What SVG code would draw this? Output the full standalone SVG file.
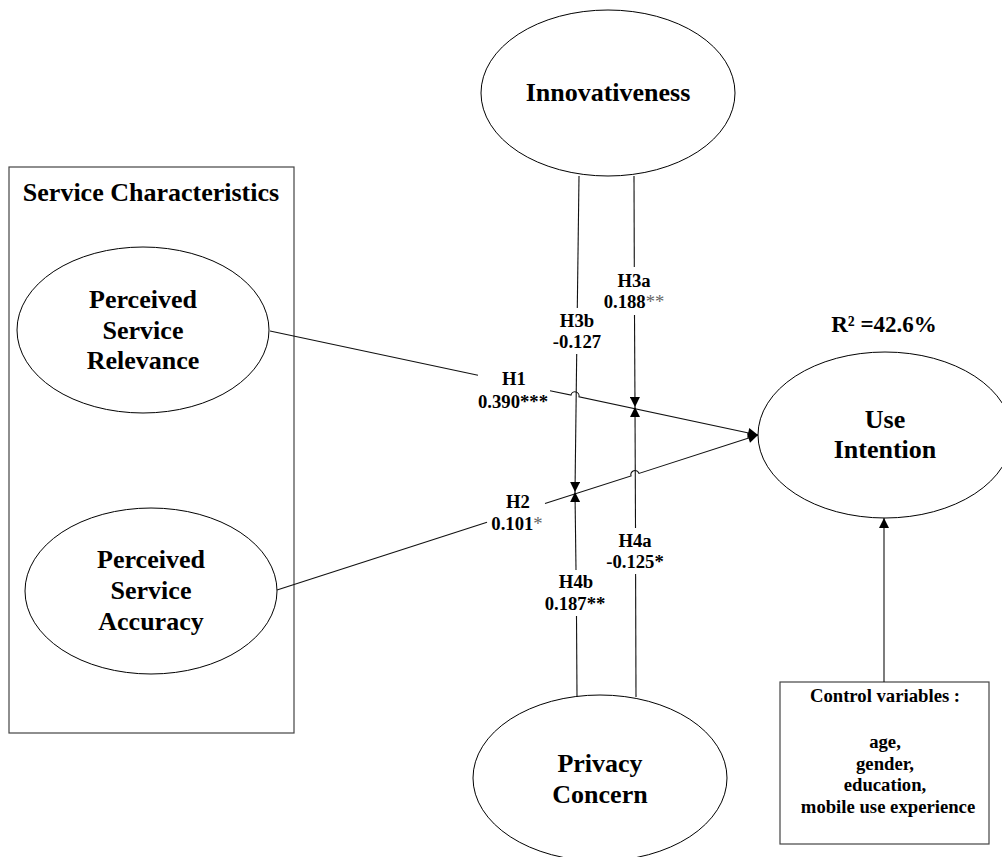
<svg xmlns="http://www.w3.org/2000/svg" width="1002" height="857" viewBox="0 0 1002 857">
<style>
  .node { fill: #ffffff; stroke: #000000; stroke-width: 1; }
  .box { fill: none; stroke: #444444; stroke-width: 1.2; }
  .big { font-family: "Liberation Serif", "Times New Roman", serif; font-weight: bold; font-size: 26px; fill: #000; text-anchor: middle; }
  .lbl { font-family: "Liberation Serif", "Times New Roman", serif; font-weight: bold; font-size: 18.7px; fill: #000; text-anchor: middle; }
  .gray { fill: #666666; font-weight: normal; }
  .edge { fill: none; stroke: #111111; stroke-width: 1.1; }
</style>
<defs>
  <marker id="arrow" viewBox="0 0 10 10" refX="10" refY="5" markerWidth="11" markerHeight="10" markerUnits="userSpaceOnUse" orient="auto">
    <path d="M0,0 L10,5 L0,10 z" fill="#000"/>
  </marker>
</defs>
<rect width="1002" height="857" fill="#ffffff"/>

<g id="service-characteristics">
  <rect class="box" x="9" y="167" width="285" height="566"/>
  <text class="big" x="151" y="201">Service Characteristics</text>
</g>

<g id="perceived-service-relevance">
  <ellipse class="node" cx="143" cy="330" rx="126" ry="83"/>
  <text class="big" x="143" y="308">Perceived</text>
  <text class="big" x="143" y="338.5">Service</text>
  <text class="big" x="143" y="369">Relevance</text>
</g>

<g id="perceived-service-accuracy">
  <ellipse class="node" cx="151" cy="591" rx="126" ry="83"/>
  <text class="big" x="151" y="568">Perceived</text>
  <text class="big" x="151" y="599">Service</text>
  <text class="big" x="151" y="630">Accuracy</text>
</g>

<g id="innovativeness">
  <ellipse class="node" cx="608" cy="93" rx="127" ry="83"/>
  <text class="big" x="608" y="101">Innovativeness</text>
</g>

<g id="privacy-concern">
  <ellipse class="node" cx="600" cy="778" rx="127" ry="83"/>
  <text class="big" x="600" y="772">Privacy</text>
  <text class="big" x="600" y="803">Concern</text>
</g>

<g id="use-intention">
  <ellipse class="node" cx="885" cy="435" rx="127" ry="83"/>
  <text class="big" x="885" y="428">Use</text>
  <text class="big" x="885" y="458">Intention</text>
  <text class="big" x="884" y="332" style="font-size:23px">R² =42.6%</text>
</g>

<g id="control-variables">
  <rect class="box" x="780" y="682" width="209" height="162"/>
  <text class="lbl" x="885" y="702">Control variables :</text>
  <text class="lbl" x="885" y="748">age,</text>
  <text class="lbl" x="885" y="769.5">gender,</text>
  <text class="lbl" x="885" y="791">education,</text>
  <text class="lbl" x="888" y="812.5">mobile use experience</text>
</g>

<g id="connectors">
  <!-- H1: PSR -> Use Intention -->
  <path class="edge" d="M270,331 L478,375.3"/>
  <path class="edge" d="M550,390.7 L571,395.1 A4,4 0 0 1 579,396.8 L758,435" marker-end="url(#arrow)"/>
  <!-- H2: PSA -> Use Intention -->
  <path class="edge" d="M277,590 L487,522.3"/>
  <path class="edge" d="M545,503.6 L631,475.9 A4,4 0 0 1 639,473.4 L758,435" marker-end="url(#arrow)"/>
  <!-- H3a: Innovativeness -> H1 -->
  <path class="edge" d="M634,176 L634.3,267"/>
  <path class="edge" d="M634.5,315 L635,407" marker-end="url(#arrow)"/>
  <!-- H3b: Innovativeness -> H2 -->
  <path class="edge" d="M579,176 L577.3,308"/>
  <path class="edge" d="M576.7,354 L575,492" marker-end="url(#arrow)"/>
  <!-- H4a: Privacy -> H1 -->
  <path class="edge" d="M636,697 L635.6,574"/>
  <path class="edge" d="M635.5,528 L635,407" marker-end="url(#arrow)"/>
  <!-- H4b: Privacy -> H2 -->
  <path class="edge" d="M577,697 L576.5,616"/>
  <path class="edge" d="M576,570 L575,492" marker-end="url(#arrow)"/>
  <!-- Control -> Use Intention -->
  <path class="edge" d="M884,682 L884,518" marker-end="url(#arrow)"/>

  <text class="lbl" x="514" y="385">H1</text>
  <text class="lbl" x="513" y="408">0.390***</text>
  <text class="lbl" x="518" y="508">H2</text>
  <text class="lbl" x="517" y="530">0.101<tspan class="gray">*</tspan></text>
  <text class="lbl" x="634" y="286.5">H3a</text>
  <text class="lbl" x="634" y="308">0.188<tspan class="gray">**</tspan></text>
  <text class="lbl" x="577" y="327">H3b</text>
  <text class="lbl" x="577" y="348">-0.127</text>
  <text class="lbl" x="635" y="546.5">H4a</text>
  <text class="lbl" x="635" y="568">-0.125*</text>
  <text class="lbl" x="576" y="588">H4b</text>
  <text class="lbl" x="575" y="610">0.187**</text>
</g>
</svg>
